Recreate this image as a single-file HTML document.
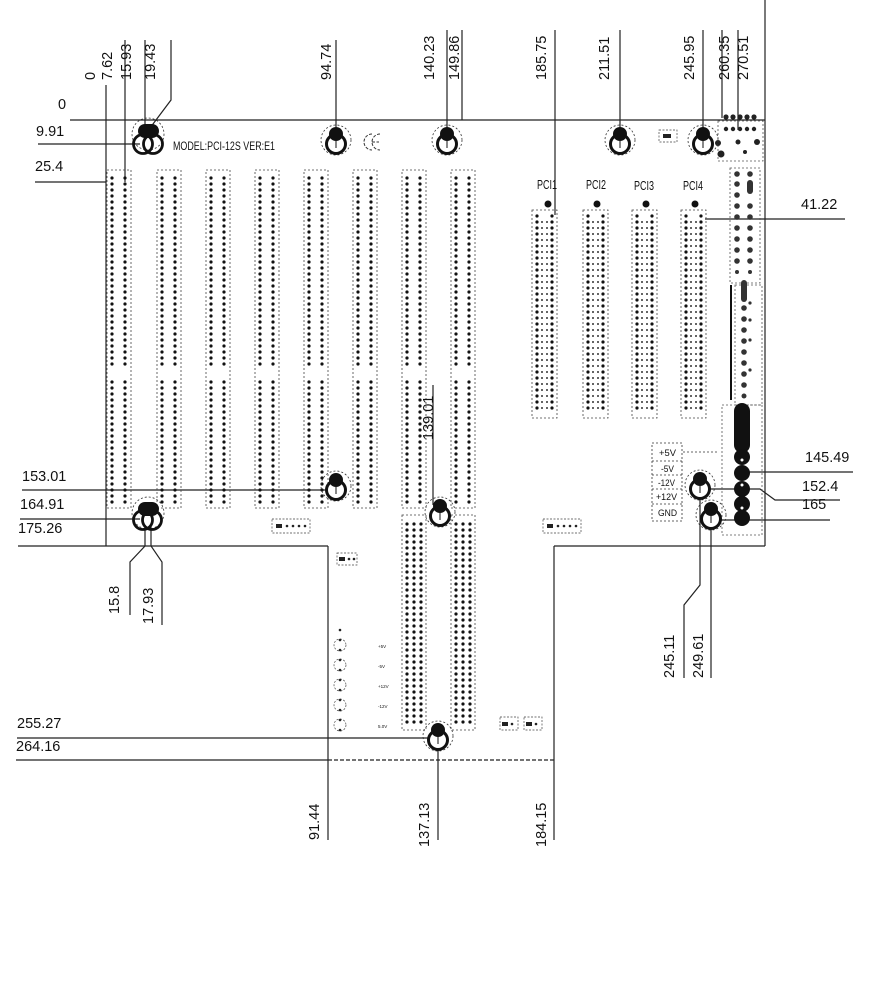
<!DOCTYPE html>
<html><head><meta charset="utf-8"><style>
html,body{margin:0;padding:0;background:#fff;}
svg{display:block;}
text{font-family:"Liberation Sans",sans-serif;fill:#111;}
</style></head><body>
<svg width="884" height="1000" viewBox="0 0 884 1000" xmlns="http://www.w3.org/2000/svg">
<defs>
<g id="hole">
 <circle cx="0" cy="0" r="15" fill="none" stroke="#333" stroke-width="0.8" stroke-dasharray="2,2"/>
 <circle cx="0" cy="4" r="9.5" fill="#fff" stroke="#111" stroke-width="3"/>
 <circle cx="0" cy="-6" r="7" fill="#111"/>
 <line x1="0" y1="1" x2="0" y2="8" stroke="#111" stroke-width="1"/>
</g>
</defs>
<g stroke="#222" stroke-width="1.2" fill="none">
 <line x1="70" y1="120" x2="765" y2="120"/>
 <line x1="106" y1="85" x2="106" y2="546"/>
 <line x1="106" y1="546" x2="328" y2="546"/>
 <line x1="328" y1="546" x2="328" y2="760"/>
 <line x1="554" y1="546" x2="554" y2="760"/>
 <line x1="554" y1="546" x2="765" y2="546"/>
 <line x1="765" y1="0" x2="765" y2="546"/>
 <line x1="328" y1="760" x2="554" y2="760" stroke-dasharray="4,2"/>
 <line x1="125" y1="40" x2="125" y2="182"/>
 <line x1="145" y1="40" x2="145" y2="135"/>
 <polyline points="171,40 171,100 150,128"/>
 <line x1="336" y1="40" x2="336" y2="138"/>
 <line x1="447" y1="30" x2="447" y2="138"/>
 <line x1="462" y1="30" x2="462" y2="120"/>
 <line x1="555" y1="30" x2="555" y2="215"/>
 <line x1="620" y1="30" x2="620" y2="138"/>
 <line x1="703" y1="30" x2="703" y2="138"/>
 <line x1="722" y1="30" x2="722" y2="118"/>
 <line x1="738" y1="30" x2="738" y2="130"/>
 <line x1="38" y1="144" x2="140" y2="144"/>
 <line x1="35" y1="182" x2="106" y2="182"/>
 <line x1="22" y1="490" x2="330" y2="490"/>
 <line x1="20" y1="519" x2="140" y2="519"/>
 <line x1="18" y1="546" x2="106" y2="546"/>
 <line x1="17" y1="738" x2="432" y2="738"/>
 <line x1="16" y1="760" x2="328" y2="760"/>
 <line x1="705" y1="219" x2="845" y2="219"/>
 <line x1="745" y1="472" x2="853" y2="472"/>
 <polyline points="705,489 760,489 775,500 840,500"/>
 <line x1="715" y1="520" x2="830" y2="520"/>
 <polyline points="145,525 145,546 130,562 130,615"/>
 <polyline points="151,525 151,546 162,562 162,625"/>
 <polyline points="700,492 700,585 684,605 684,678"/>
 <line x1="711" y1="520" x2="711" y2="678"/>
 <line x1="328" y1="760" x2="328" y2="840"/>
 <line x1="438" y1="745" x2="438" y2="840"/>
 <line x1="554" y1="760" x2="554" y2="840"/>
 <line x1="433" y1="385" x2="433" y2="505"/>
</g>
<g fill="none" stroke="#444" stroke-width="0.8" stroke-dasharray="2,2">
  <rect x="107" y="170" width="24" height="338"/>
  <rect x="157" y="170" width="24" height="338"/>
  <rect x="206" y="170" width="24" height="338"/>
  <rect x="255" y="170" width="24" height="338"/>
  <rect x="304" y="170" width="24" height="338"/>
  <rect x="353" y="170" width="24" height="338"/>
  <rect x="402" y="170" width="24" height="338"/>
  <rect x="451" y="170" width="24" height="338"/>
  <rect x="402" y="515" width="24" height="215"/>
  <rect x="451" y="515" width="24" height="215"/>
  <rect x="532" y="210" width="25" height="208"/>
  <rect x="583" y="210" width="25" height="208"/>
  <rect x="632" y="210" width="25" height="208"/>
  <rect x="681" y="210" width="25" height="208"/>
</g>
<g stroke="#111" stroke-width="3.2" stroke-linecap="round" stroke-dasharray="0 6" fill="none">
 <path d="M112 178V366M125 178V366M112 382V504M125 382V504
  M162 178V366M175 178V366M162 382V504M175 382V504
  M211 178V366M224 178V366M211 382V504M224 382V504
  M260 178V366M273 178V366M260 382V504M273 382V504
  M309 178V366M322 178V366M309 382V504M322 382V504
  M358 178V366M371 178V366M358 382V504M371 382V504
  M407 178V366M420 178V366M407 382V504M420 382V504
  M456 178V366M469 178V366M456 382V504M469 382V504
  M407 524V726M414 524V726M421 524V726
  M456 524V726M463 524V726M470 524V726
  M537 216V414M552 216V414 M588 216V414M603 216V414 M637 216V414M652 216V414 M686 216V414M701 216V414"/>
</g>
<g stroke="#333" stroke-width="2" stroke-linecap="round" stroke-dasharray="0 6" fill="none">
 <path d="M542 222V414M547 222V414M593 222V414M598 222V414M642 222V414M647 222V414M691 222V414M696 222V414"/>
</g>
<g fill="#fff">
  <rect x="109" y="368" width="20" height="10"/><rect x="159" y="368" width="20" height="10"/>
  <rect x="208" y="368" width="20" height="10"/><rect x="257" y="368" width="20" height="10"/>
  <rect x="306" y="368" width="20" height="10"/><rect x="355" y="368" width="20" height="10"/>
  <rect x="404" y="368" width="20" height="10"/><rect x="453" y="368" width="20" height="10"/>
</g>
<g fill="#111">
  <circle cx="548" cy="204" r="3.5"/><circle cx="597" cy="204" r="3.5"/>
  <circle cx="646" cy="204" r="3.5"/><circle cx="695" cy="204" r="3.5"/>
</g>
<g>
 <rect x="718" y="121" width="45" height="40" fill="none" stroke="#555" stroke-width="0.8" stroke-dasharray="2,2"/>
 <g fill="#222"><circle cx="726" cy="117" r="2.6"/><circle cx="733" cy="117" r="2.6"/><circle cx="740" cy="117" r="2.6"/><circle cx="747" cy="117" r="2.6"/><circle cx="754" cy="117" r="2.6"/>
 <circle cx="726" cy="129" r="2.2"/><circle cx="733" cy="129" r="2.2"/><circle cx="740" cy="129" r="2.2"/><circle cx="747" cy="129" r="2.2"/><circle cx="754" cy="129" r="2.2"/>
 <circle cx="718" cy="143" r="3"/><circle cx="738" cy="142" r="2.5"/><circle cx="757" cy="142" r="3"/><circle cx="721" cy="154" r="3.5"/><circle cx="745" cy="152" r="2"/></g>
 <rect x="730" y="168" width="30" height="115" fill="none" stroke="#555" stroke-width="0.8" stroke-dasharray="2,2"/>
 <rect x="735" y="285" width="27" height="120" fill="none" stroke="#555" stroke-width="0.8" stroke-dasharray="2,2"/>
 <rect x="722" y="405" width="40" height="130" fill="none" stroke="#555" stroke-width="0.8" stroke-dasharray="2,2"/>
 <line x1="731" y1="285" x2="731" y2="400" stroke="#111" stroke-width="2"/>
 <g fill="#333">
  <circle cx="737" cy="174" r="2.8"/><circle cx="737" cy="184" r="2.8"/><circle cx="737" cy="195" r="2.8"/><circle cx="737" cy="206" r="2.8"/><circle cx="737" cy="217" r="2.8"/><circle cx="737" cy="228" r="2.8"/><circle cx="737" cy="239" r="2.8"/><circle cx="737" cy="250" r="2.8"/><circle cx="737" cy="261" r="2.8"/><circle cx="737" cy="272" r="2"/>
  <circle cx="750" cy="174" r="2.8"/><rect x="747" y="180" width="6" height="14" rx="3"/><circle cx="750" cy="206" r="2.8"/><circle cx="750" cy="217" r="2.8"/><circle cx="750" cy="228" r="2.8"/><circle cx="750" cy="239" r="2.8"/><circle cx="750" cy="250" r="2.8"/><circle cx="750" cy="261" r="2.8"/><circle cx="750" cy="272" r="2"/>
  <rect x="741" y="280" width="6" height="22" rx="3"/>
  <circle cx="744" cy="308" r="2.8"/><circle cx="744" cy="319" r="2.8"/><circle cx="744" cy="330" r="2.8"/><circle cx="744" cy="341" r="2.8"/><circle cx="744" cy="352" r="2.8"/><circle cx="744" cy="363" r="2.8"/><circle cx="744" cy="374" r="2.8"/><circle cx="744" cy="385" r="2.8"/><circle cx="744" cy="396" r="2.5"/>
  <circle cx="750" cy="303" r="1.6"/><circle cx="750" cy="320" r="1.6"/><circle cx="750" cy="340" r="1.6"/><circle cx="750" cy="370" r="1.6"/>
 </g>
 <rect x="734" y="403" width="16" height="50" rx="8" fill="#111"/>
 <g fill="#111"><circle cx="742" cy="457" r="8"/><circle cx="742" cy="473" r="8"/><circle cx="742" cy="489" r="8"/><circle cx="742" cy="504" r="8"/><circle cx="742" cy="518" r="8"/></g>
 <g fill="#fff"><circle cx="742" cy="460" r="1.5"/><circle cx="742" cy="485" r="1.5"/><circle cx="742" cy="508" r="1.5"/></g>
 <g fill="none" stroke="#333" stroke-width="0.8" stroke-dasharray="2,2">
  <rect x="652" y="443" width="30" height="78"/>
  <line x1="652" y1="461" x2="682" y2="461"/><line x1="652" y1="475" x2="682" y2="475"/><line x1="652" y1="489" x2="682" y2="489"/><line x1="652" y1="504" x2="682" y2="504"/>
  <line x1="683" y1="452" x2="717" y2="452"/>
 </g>
 <g font-size="9">
  <text x="659" y="456" textLength="17" lengthAdjust="spacingAndGlyphs">+5V</text><text x="661" y="472" textLength="13" lengthAdjust="spacingAndGlyphs">-5V</text><text x="658" y="486" textLength="17" lengthAdjust="spacingAndGlyphs">-12V</text><text x="656" y="500" textLength="21" lengthAdjust="spacingAndGlyphs">+12V</text><text x="658" y="516" textLength="19" lengthAdjust="spacingAndGlyphs">GND</text>
 </g>
</g>
<g fill="none" stroke="#444" stroke-width="0.7" stroke-dasharray="2,1.5">
 <rect x="272" y="519" width="38" height="14"/><rect x="543" y="519" width="38" height="14"/>
 <rect x="337" y="553" width="20" height="12"/><rect x="500" y="717" width="18" height="13"/><rect x="524" y="717" width="18" height="13"/>
 <rect x="659" y="130" width="18" height="12"/>
 <circle cx="340" cy="645" r="6"/><circle cx="340" cy="665" r="6"/><circle cx="340" cy="685" r="6"/><circle cx="340" cy="705" r="6"/><circle cx="340" cy="725" r="6"/>
</g>
<path d="M372 134 A8 8 0 1 0 372 150 M380 134 A8 8 0 1 0 380 150 M372 142 H379" fill="none" stroke="#333" stroke-width="1" stroke-dasharray="3,1.5"/>
<g fill="#222">
 <rect x="276" y="524" width="6" height="4"/><circle cx="287" cy="526" r="1.3"/><circle cx="293" cy="526" r="1.3"/><circle cx="299" cy="526" r="1.3"/><circle cx="305" cy="526" r="1.3"/>
 <rect x="547" y="524" width="6" height="4"/><circle cx="558" cy="526" r="1.3"/><circle cx="564" cy="526" r="1.3"/><circle cx="570" cy="526" r="1.3"/><circle cx="576" cy="526" r="1.3"/>
 <rect x="339" y="557" width="6" height="4"/><circle cx="349" cy="559" r="1.3"/><circle cx="354" cy="559" r="1.3"/>
 <rect x="502" y="722" width="6" height="4"/><circle cx="512" cy="724" r="1.3"/>
 <rect x="526" y="722" width="6" height="4"/><circle cx="536" cy="724" r="1.3"/>
 <rect x="663" y="134" width="8" height="4"/>
 <circle cx="340" cy="630" r="1.3"/><circle cx="340" cy="640" r="1.3"/><circle cx="340" cy="650" r="1.3"/><circle cx="340" cy="660" r="1.3"/><circle cx="340" cy="670" r="1.3"/><circle cx="340" cy="680" r="1.3"/><circle cx="340" cy="690" r="1.3"/><circle cx="340" cy="700" r="1.3"/><circle cx="340" cy="710" r="1.3"/><circle cx="340" cy="720" r="1.3"/><circle cx="340" cy="730" r="1.3"/>
</g>
<g font-size="4.5" fill="#444"><text x="378" y="648">+5V</text><text x="378" y="668">-5V</text><text x="378" y="688">+12V</text><text x="378" y="708">-12V</text><text x="378" y="728">5.0V</text></g>
<use href="#hole" x="336" y="140"/>
<use href="#hole" x="447" y="140"/>
<use href="#hole" x="620" y="140"/>
<use href="#hole" x="703" y="140"/>
<use href="#hole" x="336" y="486"/>
<use href="#hole" x="440" y="512"/>
<use href="#hole" x="438" y="736"/>
<use href="#hole" x="700" y="485"/>
<use href="#hole" x="711" y="515"/>
<g>
 <circle cx="148" cy="134" r="16" fill="none" stroke="#333" stroke-width="0.8" stroke-dasharray="2,2"/>
 <circle cx="143" cy="144" r="9.5" fill="none" stroke="#111" stroke-width="2.8"/>
 <circle cx="153" cy="144" r="9.5" fill="none" stroke="#111" stroke-width="2.8"/>
 <rect x="138" y="124" width="21" height="14" rx="7" fill="#111"/>
 <circle cx="148" cy="513" r="16" fill="none" stroke="#333" stroke-width="0.8" stroke-dasharray="2,2"/>
 <circle cx="143" cy="520" r="9.5" fill="none" stroke="#111" stroke-width="2.8"/>
 <circle cx="152" cy="520" r="9.5" fill="none" stroke="#111" stroke-width="2.8"/>
 <rect x="138" y="502" width="21" height="14" rx="7" fill="#111"/>
</g>
<text x="173" y="150" font-size="11.5" textLength="102" lengthAdjust="spacingAndGlyphs">MODEL:PCI-12S VER:E1</text>
<g font-size="12.5">
 <text x="537" y="189" textLength="20" lengthAdjust="spacingAndGlyphs">PCI1</text><text x="586" y="189" textLength="20" lengthAdjust="spacingAndGlyphs">PCI2</text><text x="634" y="190" textLength="20" lengthAdjust="spacingAndGlyphs">PCI3</text><text x="683" y="190" textLength="20" lengthAdjust="spacingAndGlyphs">PCI4</text>
</g>
<g font-size="14.5">
 <text x="58" y="109">0</text>
 <text x="36" y="136">9.91</text>
 <text x="35" y="171">25.4</text>
 <text x="22" y="481">153.01</text>
 <text x="20" y="509">164.91</text>
 <text x="18" y="533">175.26</text>
 <text x="17" y="728">255.27</text>
 <text x="16" y="751">264.16</text>
 <text x="801" y="209">41.22</text>
 <text x="805" y="462">145.49</text>
 <text x="802" y="491">152.4</text>
 <text x="802" y="509">165</text>
</g>
<g font-size="14.5">
 <text transform="translate(95,80) rotate(-90)">0</text>
 <text transform="translate(112,80) rotate(-90)">7.62</text>
 <text transform="translate(131,80) rotate(-90)">15.93</text>
 <text transform="translate(155,80) rotate(-90)">19.43</text>
 <text transform="translate(331,80) rotate(-90)">94.74</text>
 <text transform="translate(434,80) rotate(-90)">140.23</text>
 <text transform="translate(459,80) rotate(-90)">149.86</text>
 <text transform="translate(546,80) rotate(-90)">185.75</text>
 <text transform="translate(609,80) rotate(-90)">211.51</text>
 <text transform="translate(694,80) rotate(-90)">245.95</text>
 <text transform="translate(729,80) rotate(-90)">260.35</text>
 <text transform="translate(748,80) rotate(-90)">270.51</text>
 <text transform="translate(433,440) rotate(-90)">139.01</text>
 <text transform="translate(119,614) rotate(-90)">15.8</text>
 <text transform="translate(153,624) rotate(-90)">17.93</text>
 <text transform="translate(674,678) rotate(-90)">245.11</text>
 <text transform="translate(703,678) rotate(-90)">249.61</text>
 <text transform="translate(319,840) rotate(-90)">91.44</text>
 <text transform="translate(429,847) rotate(-90)">137.13</text>
 <text transform="translate(546,847) rotate(-90)">184.15</text>
</g>
</svg>
</body></html>
